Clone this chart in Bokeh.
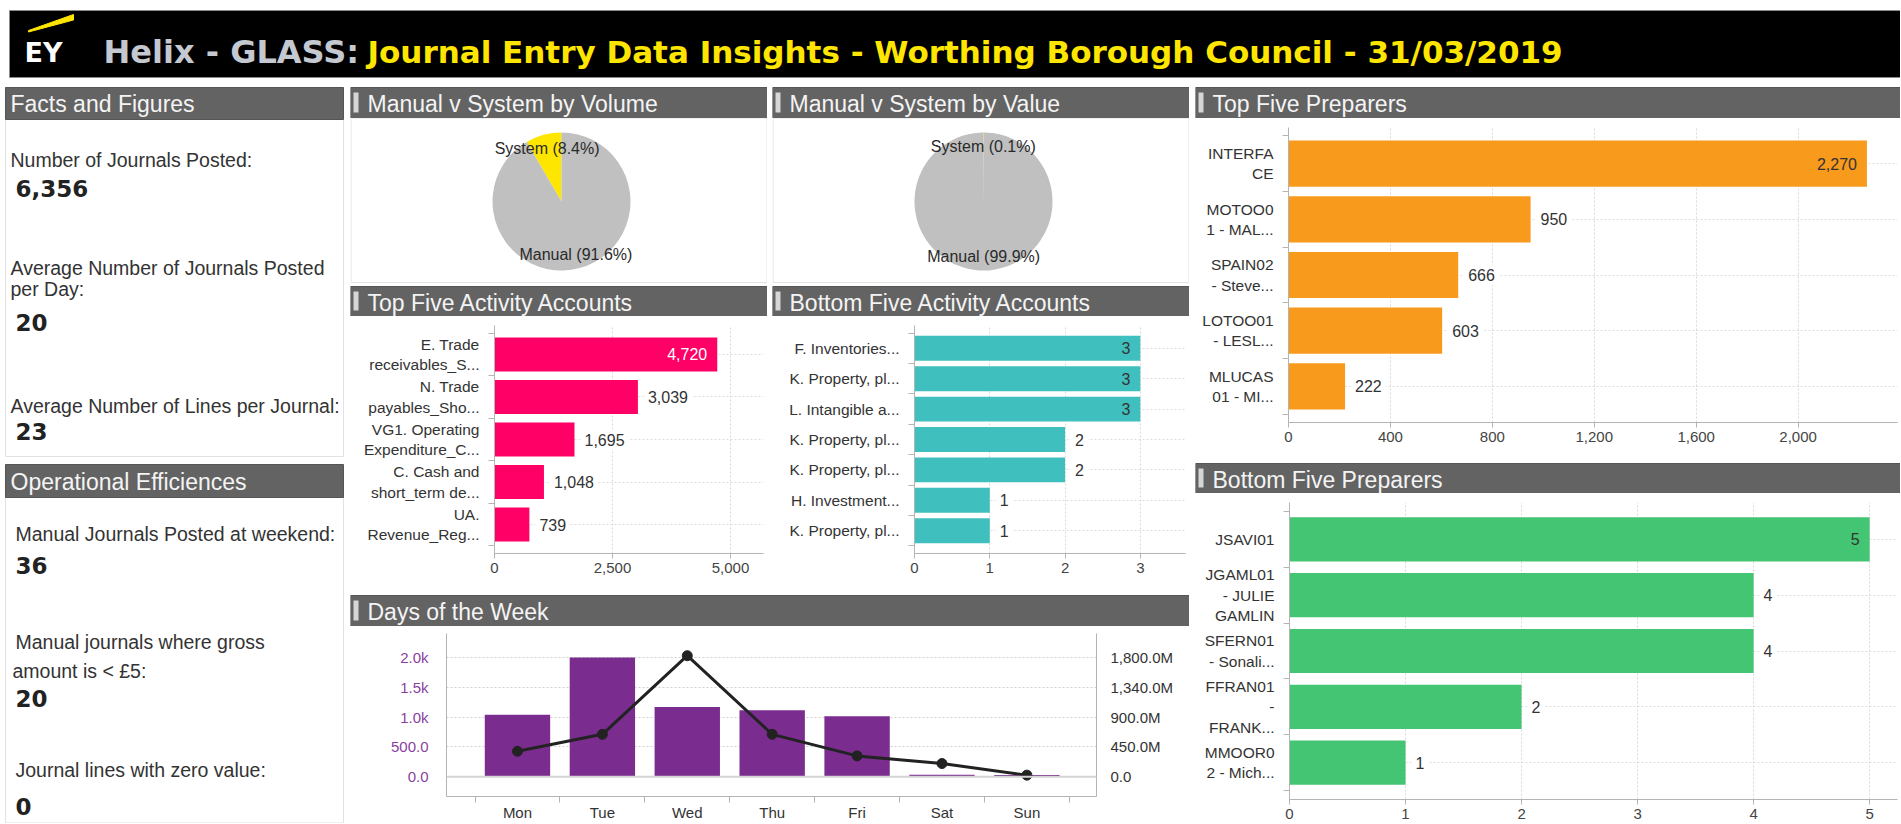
import math
from bokeh.plotting import figure
from bokeh.layouts import row, column
from bokeh.models import Range1d, FixedTicker, NumeralTickFormatter, LinearAxis, Span
from bokeh.core.properties import value
from bokeh.embed import file_html
from bokeh.resources import INLINE

# ------------------------------------------------------------------ data
title_grey = "Helix - GLASS:"
title_yellow = "Journal Entry Data Insights - Worthing Borough Council - 31/03/2019"

facts_title = "Facts and Figures"
facts_lines = ["Number of Journals Posted:", "Average Number of Journals Posted", "per Day:",
               "Average Number of Lines per Journal:"]
facts_values = ["6,356", "20", "23"]
ops_title = "Operational Efficiences"
ops_lines = ["Manual Journals Posted at weekend:", "Manual journals where gross", "amount is < £5:",
             "Journal lines with zero value:"]
ops_values = ["36", "20", "0"]

pie_names = ["System", "Manual"]
vol_share = [8.4, 91.6]
val_share = [0.1, 99.9]

top_acc_labels = ["E. Trade\nreceivables_S...", "N. Trade\npayables_Sho...", "VG1. Operating\nExpenditure_C...",
                  "C. Cash and\nshort_term de...", "UA.\nRevenue_Reg..."]
top_acc_values = [4720, 3039, 1695, 1048, 739]

bot_acc_labels = ["F. Inventories...", "K. Property, pl...", "L. Intangible a...", "K. Property, pl...",
                  "K. Property, pl...", "H. Investment...", "K. Property, pl..."]
bot_acc_values = [3, 3, 3, 2, 2, 1, 1]

days = ["Mon", "Tue", "Wed", "Thu", "Fri", "Sat", "Sun"]
day_volume = [1040, 2000, 1170, 1115, 1015, 35, 30]
day_value_m = [385, 640, 1825, 640, 315, 200, 25]
vol_ticks = [0, 500, 1000, 1500, 2000]
vol_tick_labels = ["0.0", "500.0", "1.0k", "1.5k", "2.0k"]
val_ticks = [0, 450, 900, 1340, 1800]
val_tick_labels = ["0.0", "450.0M", "900.0M", "1,340.0M", "1,800.0M"]

top_prep_labels = ["INTERFA\nCE", "MOTOO0\n1 - MAL...", "SPAIN02\n- Steve...", "LOTOO01\n- LESL...",
                   "MLUCAS\n01 - MI..."]
top_prep_values = [2270, 950, 666, 603, 222]

bot_prep_labels = ["JSAVI01", "JGAML01\n- JULIE\nGAMLIN", "SFERN01\n- Sonali...", "FFRAN01\n-\nFRANK...",
                   "MMOOR0\n2 - Mich..."]
bot_prep_values = [5, 4, 4, 2, 1]

# ------------------------------------------------------------------ styles
FONT = "Liberation Sans"
SANS = value(FONT)
HDR_GREY = "#636363"
TXT = "#333333"
BORDER = "#e2e2e2"


def canvas(w, h, flip=True):
    p = figure(width=w, height=h, x_range=Range1d(0, w),
               y_range=Range1d(h, 0) if flip else Range1d(0, h),
               toolbar_location=None, output_backend="svg", min_border=0,
               x_axis_location=None, y_axis_location=None, outline_line_color=None,
               background_fill_color="white", border_fill_color="white")
    p.frame_align = False
    p.grid.visible = False
    return p


def header(w, h, top, title, marker=True):
    p = canvas(w, h)
    p.quad(left=0, right=w, top=top, bottom=h, fill_color=HDR_GREY, line_color="#555555")
    if marker:
        p.quad(left=3, right=8, top=top + 5, bottom=h - 6, fill_color="#d6d6d6", line_color=None)
    p.text(x=[17 if marker else 3], y=[(top + h) / 2 + 1], text=[title], text_font=SANS,
           text_font_size="23px", text_color="#f4f4f4", text_baseline="middle")
    return p


# ------------------------------------------------------------------ page header
W = 1900
hdr = canvas(W, 84)
hdr.quad(left=9, right=W, top=10, bottom=77, fill_color="black", line_color="#8a8a8a")
hdr.patch(x=[28, 73, 73, 28], y=[30, 14, 19.5, 31.5], color="#ffe600")
hdr.text(x=[24], y=[52], text=["EY"], text_font=value("DejaVu Sans"), text_font_style="bold",
         text_font_size="27px", text_color="white", text_baseline="alphabetic")
hdr.text(x=[103], y=[51], text=[title_grey], text_font=value("DejaVu Sans"), text_font_style="bold",
         text_font_size="32px", text_color="#c4c8d0", text_baseline="alphabetic")
hdr.text(x=[367], y=[51], text=[title_yellow], text_font=value("DejaVu Sans"), text_font_style="bold",
         text_font_size="31px", text_color="#ffe600", text_baseline="alphabetic")

# ------------------------------------------------------------------ left column
left = canvas(344, 739)
left.quad(left=5, right=343, top=3, bottom=372, fill_color=None, line_color=BORDER)
left.quad(left=5, right=343, top=380, bottom=738.5, fill_color=None, line_color=BORDER)
left.quad(left=5, right=343, top=3, bottom=35, fill_color=HDR_GREY, line_color="#555555")
left.quad(left=5, right=343, top=380, bottom=413, fill_color=HDR_GREY, line_color="#555555")
left.text(x=[10, 10], y=[19.5, 397], text=[facts_title, ops_title], text_font=SANS, text_font_size="23px",
          text_color="#f4f4f4", text_baseline="middle")
lab_x = [10, 10, 10, 10, 15, 15, 12, 15]
lab_y = [75, 183.5, 204, 321, 449.5, 557, 586.5, 685]
left.text(x=lab_x, y=lab_y, text=facts_lines + ops_lines, text_font=SANS, text_font_size="19.5px",
          text_color=TXT, text_baseline="middle")
left.text(x=[15, 15, 15, 15, 15, 15], y=[103.5, 238, 346.5, 480.5, 613.5, 721.5],
          text=facts_values + ops_values,
          text_font=value("DejaVu Sans"), text_font_style="bold", text_font_size="23px",
          text_color="#222222", text_baseline="middle")


# ------------------------------------------------------------------ pies
def pie(shares, names):
    w, h = 417, 165
    p = canvas(w, h, flip=False)
    p.quad(left=0.5, right=w - 0.5, bottom=1, top=h, fill_color=None, line_color=BORDER)
    cx, cy, r = 211, 82, 69
    total = sum(shares)
    starts, ends, a = [], [], math.pi / 2
    for s in shares:
        starts.append(a)
        a += 2 * math.pi * s / total
        ends.append(a)
    p.wedge(x=cx, y=cy, radius=r, start_angle=starts, end_angle=ends,
            fill_color=["#ffe600", "#c0c0c0"], line_color=None)
    mids = [(s + e) / 2 for s, e in zip(starts, ends)]
    lx = [cx + 0.8 * r * math.cos(m) for m in mids]
    ly = [cy + 0.8 * r * math.sin(m) for m in mids]
    txt = [f"{n} ({s}%)" for n, s in zip(names, shares)]
    p.text(x=lx, y=ly, text=txt, text_font=SANS, text_font_size="16px", text_color="#2a2a2a",
           text_align="center", text_baseline="middle")
    return p


# ------------------------------------------------------------------ horizontal bars
def style_axis(ax, size="15px", color="#444444"):
    ax.major_label_text_font = FONT
    ax.major_label_text_font_size = size
    ax.major_label_text_color = color


def hbar(w, h, labels, values, color, x_end, xticks, borders, pad, bar_h, inside_color):
    n = len(values)
    ys = [n - 1 - i for i in range(n)]
    p = figure(width=w, height=h, x_range=Range1d(0, x_end), y_range=Range1d(-0.5 - pad, n - 0.5 + pad),
               toolbar_location=None, output_backend="svg", outline_line_color=None,
               min_border_left=borders[0], min_border_right=borders[1],
               min_border_top=borders[2], min_border_bottom=borders[3])
    p.frame_align = False
    xa, ya = p.xaxis[0], p.yaxis[0]
    xa.ticker = FixedTicker(ticks=xticks)
    xa.formatter = NumeralTickFormatter(format="0,0")
    xa.major_tick_out, xa.major_tick_in = 5, 0
    xa.minor_tick_line_color = None
    xa.axis_line_color = xa.major_tick_line_color = "#b4b4b4"
    style_axis(xa)
    xa.major_label_standoff = 4
    ya.ticker = FixedTicker(ticks=ys, minor_ticks=[k - 0.5 for k in range(n + 1)])
    ya.major_label_overrides = {float(y): lab for y, lab in zip(ys, labels)}
    ya.major_tick_line_color = None
    ya.major_tick_out = 0
    ya.minor_tick_out, ya.minor_tick_in = 6, 0
    ya.minor_tick_line_color = "#b4b4b4"
    ya.axis_line_color = "#b4b4b4"
    style_axis(ya, "15.5px", TXT)
    ya.major_label_standoff = 9
    p.xgrid.grid_line_color = "#d8d8d8"
    p.xgrid.grid_line_dash = "2 2"
    p.ygrid.grid_line_color = "#dedede"
    p.ygrid.grid_line_dash = "2 2"
    p.hbar(y=ys, left=0, right=values, height=bar_h, fill_color=color, line_color=None)
    vmax = max(values)
    iy = [y for y, v in zip(ys, values) if v == vmax]
    iv = [v for v in values if v == vmax]
    oy = [y for y, v in zip(ys, values) if v != vmax]
    ov = [v for v in values if v != vmax]
    p.text(x=iv, y=iy, text=[f"{v:,}" for v in iv], x_offset=-10, text_align="right",
           text_baseline="middle", text_font=SANS, text_font_size="16px", text_color=inside_color)
    p.text(x=ov, y=oy, text=[f"{v:,}" for v in ov], x_offset=6, text_align="left",
           text_baseline="middle", text_font=SANS, text_font_size="16px", text_color=TXT,
           background_fill_color="white", padding=4)
    return p


pie_a = pie(vol_share, pie_names)
pie_b = pie(val_share, pie_names)

bar_top_acc = hbar(417, 274, top_acc_labels, top_acc_values, "#ff0066", 5700, [0, 2500, 5000],
                   (144, 4, 9, 37), 0.18, 0.8, "white")
bar_bot_acc = hbar(417, 274, bot_acc_labels, bot_acc_values, "#40bfbf", 3.6, [0, 1, 2, 3],
                   (142, 4, 9, 37), 0.25, 0.82, TXT)

bar_top_prep = hbar(705, 337, top_prep_labels, top_prep_values, "#f89a1c", 2390,
                    [0, 400, 800, 1200, 1600, 2000], (93, 3, 9, 33), 0.15, 0.83, TXT)
bar_bot_prep = hbar(705, 330, bot_prep_labels, bot_prep_values, "#44c574", 5.24,
                    [0, 1, 2, 3, 4, 5], (94, 3, 9, 24), 0.16, 0.79, TXT)

# ------------------------------------------------------------------ days of the week
dx = list(range(len(days)))
dp = figure(width=839, height=197, x_range=Range1d(-0.836, 6.82), y_range=Range1d(-330, 2400),
            toolbar_location=None, output_backend="svg", outline_line_color=None,
            min_border_left=96, min_border_right=93, min_border_top=7, min_border_bottom=20)
dp.frame_align = False
dp.extra_y_ranges = {"val": Range1d(-297, 2160)}
xa = dp.xaxis[0]
xa.ticker = FixedTicker(ticks=dx, minor_ticks=[k - 0.5 for k in range(len(days) + 1)])
xa.major_label_overrides = {float(i): d for i, d in zip(dx, days)}
xa.major_tick_line_color = None
xa.major_tick_out = 0
xa.minor_tick_out, xa.minor_tick_in = 6, 0
xa.minor_tick_line_color = "#b4b4b4"
xa.axis_line_color = "#b4b4b4"
style_axis(xa, "15px", TXT)
xa.major_label_standoff = 1
ya = dp.yaxis[0]
ya.ticker = FixedTicker(ticks=vol_ticks)
ya.major_label_overrides = {float(t): s for t, s in zip(vol_ticks, vol_tick_labels)}
ya.major_tick_line_color = None
ya.minor_tick_line_color = None
ya.axis_line_color = "#b4b4b4"
style_axis(ya, "15px", "#8a3fa0")
ya.major_label_standoff = 12
ra = LinearAxis(y_range_name="val", ticker=FixedTicker(ticks=val_ticks),
                major_label_overrides={float(t): s for t, s in zip(val_ticks, val_tick_labels)},
                major_tick_line_color=None, minor_tick_line_color=None, axis_line_color="#b4b4b4",
                major_label_standoff=8)
style_axis(ra, "15px", TXT)
dp.add_layout(ra, "right")
dp.xgrid.grid_line_color = None
dp.ygrid.grid_line_color = "#d0d0d0"
dp.ygrid.grid_line_dash = "2 2"
dp.add_layout(Span(location=0, dimension="width", line_color="#d4d4d4", line_width=2))
dp.vbar(x=dx, top=day_volume, width=0.77, fill_color="#7b2d8f", line_color=None)
dp.line(x=dx, y=day_value_m, y_range_name="val", line_color="#222222", line_width=3)
dp.scatter(x=dx, y=day_value_m, y_range_name="val", size=10, fill_color="#222222", line_color="#222222")

# ------------------------------------------------------------------ layout
hA = header(417, 34, 3, "Manual v System by Volume")
hB = header(417, 34, 3, "Manual v System by Value")
hC = header(417, 33, 3, "Top Five Activity Accounts")
hD = header(417, 33, 3, "Bottom Five Activity Accounts")
hE = header(839, 36, 5, "Days of the Week")
hF = header(705, 34, 3, "Top Five Preparers")
hG = header(705, 38, 8, "Bottom Five Preparers")

mid = column(
    row(column(hA, pie_a), column(hB, pie_b), spacing=5),
    row(column(hC, bar_top_acc), column(hD, bar_bot_acc), spacing=5),
    hE, dp,
)
right = column(hF, bar_top_prep, hG, bar_bot_prep)
page = column(hdr, row(left, mid, right, spacing=6))

open("out.html", "w").write(file_html(page, INLINE))
